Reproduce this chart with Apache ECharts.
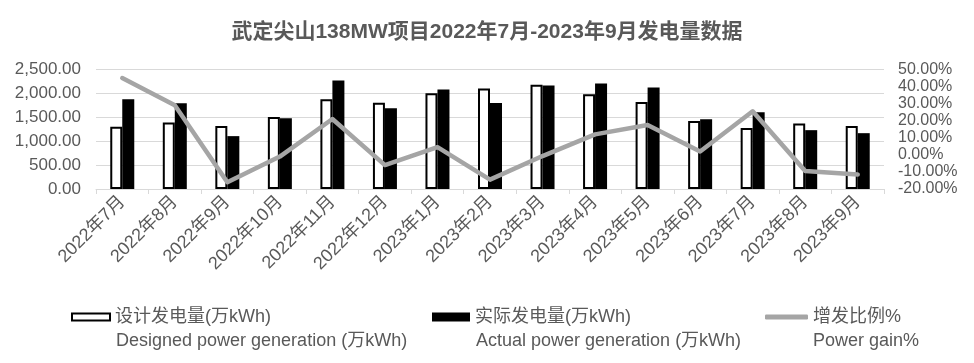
<!DOCTYPE html>
<html>
<head>
<meta charset="utf-8">
<script src="https://cdn.jsdelivr.net/npm/echarts@6/dist/echarts.min.js"></script>
<style>
html,body{margin:0;padding:0;background:#fff;}
#chart{width:974px;height:363px;}
</style>
</head>
<body>
<div id="chart"></div>
<script>
const categories = ['2022年7月','2022年8月','2022年9月','2022年10月','2022年11月','2022年12月','2023年1月','2023年2月','2023年3月','2023年4月','2023年5月','2023年6月','2023年7月','2023年8月','2023年9月'];
const designed = [1300, 1390, 1320, 1507, 1880, 1805, 2005, 2102, 2179, 1984, 1818, 1424, 1278, 1369, 1320];
const actual = [1876, 1792, 1106, 1480, 2268, 1687, 2081, 1797, 2164, 2206, 2123, 1459, 1604, 1231, 1168];
const gain = [45, 29, -16, -1, 21, -6, 4.5, -14.5, -0.7, 12, 17.5, 2, 25.5, -9.5, -11.5];
const leftTicks = {min: 0, max: 2500, interval: 500};
const rightTicks = {min: -20, max: 50, interval: 10};
const seriesNames = ['设计发电量(万kWh)', '实际发电量(万kWh)', '增发比例%'];
const seriesNamesEn = ['Designed power generation (万kWh)', 'Actual power generation (万kWh)', 'Power gain%'];
const titleText = '武定尖山138MW项目2022年7月-2023年9月发电量数据';

const FONT = "'Liberation Sans', 'Noto Sans CJK SC', sans-serif";
const TXT = '#595959';
const GRID = '#d9d9d9';

const chart = echarts.init(document.getElementById('chart'), null, {renderer: 'canvas'});
const legendText = {color: TXT, fontSize: 18, fontFamily: FONT};
chart.setOption({
  animation: false,
  backgroundColor: '#fff',
  title: {
    text: titleText,
    left: 'center',
    top: 17,
    textStyle: {color: TXT, fontSize: 21, fontWeight: 'bold', fontFamily: FONT}
  },
  grid: {left: 96, right: 90, top: 69.5, bottom: 174, containLabel: false},
  legend: [
    {left: 71, top: 308, padding: 0, itemWidth: 38, itemHeight: 7, textStyle: legendText,
     data: [{name: seriesNames[0], icon: 'rect', itemStyle: {color: '#fff', borderColor: '#000', borderWidth: 2}}]},
    {left: 432, top: 308, padding: 0, itemWidth: 38, itemHeight: 9, textStyle: legendText,
     data: [{name: seriesNames[1], icon: 'rect', itemStyle: {color: '#000'}}]},
    {left: 765, top: 308, padding: 0, itemWidth: 43, itemHeight: 5, textStyle: legendText,
     data: [{name: seriesNames[2], icon: 'roundRect', itemStyle: {color: '#a5a5a5'}}]}
  ],
  graphic: [
    {type: 'text', left: 116, top: 332, style: {text: seriesNamesEn[0], fill: TXT, font: '18px ' + FONT}},
    {type: 'text', left: 476, top: 332, style: {text: seriesNamesEn[1], fill: TXT, font: '18px ' + FONT}},
    {type: 'text', left: 813, top: 332, style: {text: seriesNamesEn[2], fill: TXT, font: '18px ' + FONT}}
  ],
  xAxis: {
    type: 'category',
    data: categories,
    boundaryGap: true,
    axisLine: {lineStyle: {color: GRID, width: 1}},
    axisTick: {show: true, length: 5, lineStyle: {color: GRID}},
    axisLabel: {rotate: 45, margin: 10, color: TXT, fontSize: 18, fontFamily: FONT, interval: 0}
  },
  yAxis: [
    {type: 'value', min: leftTicks.min, max: leftTicks.max, interval: leftTicks.interval,
     axisLine: {show: false}, axisTick: {show: false},
     splitLine: {show: true, lineStyle: {color: GRID, width: 1}},
     axisLabel: {margin: 15, color: TXT, fontSize: 17, fontFamily: FONT,
       formatter: v => v.toLocaleString('en-US', {minimumFractionDigits: 2, maximumFractionDigits: 2})}},
    {type: 'value', min: rightTicks.min, max: rightTicks.max, interval: rightTicks.interval,
     axisLine: {show: false}, axisTick: {show: false}, splitLine: {show: false},
     axisLabel: {margin: 14, color: TXT, fontSize: 16, fontFamily: FONT,
       formatter: v => v.toFixed(2) + '%'}}
  ],
  series: [
    {name: seriesNames[0], type: 'bar', data: designed, barWidth: 12, barGap: '0%',
     itemStyle: {color: '#fff', borderColor: '#000', borderWidth: 2}},
    {name: seriesNames[1], type: 'bar', data: actual, barWidth: 12,
     itemStyle: {color: '#000'}},
    {name: seriesNames[2], type: 'line', yAxisIndex: 1, data: gain, showSymbol: false, symbol: 'none',
     lineStyle: {color: '#a5a5a5', width: 4.5, cap: 'round', join: 'round'}, itemStyle: {color: '#a5a5a5'}, z: 5}
  ]
});
</script>
</body>
</html>
